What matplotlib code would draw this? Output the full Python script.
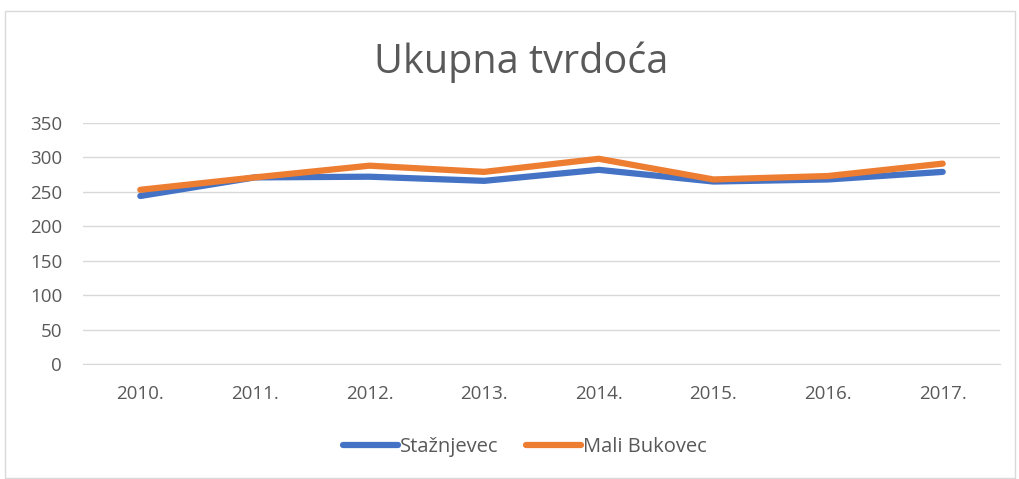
import matplotlib.pyplot as plt
from matplotlib.patches import Rectangle

years = ['2010.', '2011.', '2012.', '2013.', '2014.', '2015.', '2016.', '2017.']
staznjevec = [244, 271, 272, 266, 282, 265, 268, 279]
mali_bukovec = [253, 271, 288, 279, 298, 268, 273, 291]

plt.rcParams['font.family'] = ['Open Sans', 'DejaVu Sans']
text_col = '#595959'
grid_col = '#d9d9d9'

fig = plt.figure(figsize=(10.19, 4.79), dpi=100)
ax = fig.add_axes([83 / 1019, 1 - 364 / 479, (1000 - 83) / 1019, (364 - 123) / 479])

x = range(len(years))
ax.plot(x, staznjevec, color='#4472c4', lw=4.5, solid_capstyle='round', label='Stažnjevec')
ax.plot(x, mali_bukovec, color='#ed7d31', lw=4.5, solid_capstyle='round', label='Mali Bukovec')

ax.set_xlim(-0.5, len(years) - 0.5)
ax.set_ylim(0, 350)
ax.set_yticks(range(0, 351, 50))
ax.set_xticks(list(x))
ax.set_xticklabels(years)
ax.grid(axis='y', color=grid_col, lw=1)
ax.set_axisbelow(True)
for s in ['top', 'right', 'left']:
    ax.spines[s].set_visible(False)
ax.spines['bottom'].set_color(grid_col)
ax.tick_params(axis='both', length=0, colors=text_col, labelsize=13.5)
ax.tick_params(axis='x', pad=15)
ax.tick_params(axis='y', pad=15)

fig.text(521 / 1019, 1 - 62 / 479, 'Ukupna tvrdoća', ha='center', va='center',
         fontsize=28.5, color=text_col)

leg = fig.legend(loc='center', bbox_to_anchor=(525 / 1019, 1 - 447 / 479), ncol=2,
                 frameon=False, fontsize=14.5, handlelength=2.7, handletextpad=0.1,
                 columnspacing=1.4, labelcolor=text_col)

fig.patches.append(Rectangle((5 / 1019, 0.002), 1010 / 1019, 1 - 11 / 479 - 0.002,
                             transform=fig.transFigure, fill=False,
                             edgecolor='#d9d9d9', lw=1))

fig.savefig('out.png', dpi=100)
